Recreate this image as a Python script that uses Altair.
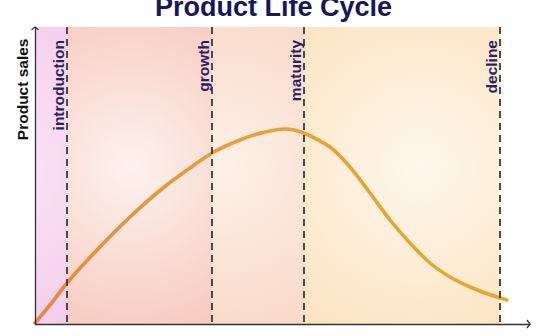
import altair as alt
import pandas as pd

# ---- data ----
time_pts = [0, 15, 32, 62, 95, 128, 155, 177, 205, 230, 250, 269, 285, 295,
            315, 335, 355, 375, 395, 415, 435, 465, 472]
sales_pts = [1, 19, 41, 74, 107, 136, 156, 171, 184, 192, 195, 191, 183, 177,
             157, 131, 104, 81, 61, 47, 37, 26, 24]

phase_names = ["introduction", "growth", "maturity", "decline"]
phase_start = [0, 32, 177, 269]
phase_end = [32, 177, 269, 465]
label_top = 284

x_max = 495
y_max = 297

W, H = 495, 297
FONT = "Liberation Sans"

curve = pd.DataFrame({"t": time_pts, "s": sales_pts})
phases = pd.DataFrame({"name": phase_names, "start": phase_start, "end": phase_end,
                       "top": [label_top] * len(phase_names)})
arrow_x = pd.DataFrame({"t": [x_max], "s": [0]})
arrow_y = pd.DataFrame({"t": [0], "s": [y_max]})

xs = alt.Scale(domain=[0, x_max], nice=False, zero=False)
ys = alt.Scale(domain=[0, y_max], nice=False, zero=False)


def x_axis():
    return alt.Axis(domain=True, ticks=False, labels=False, grid=False, title=None,
                    domainColor="#333333", domainWidth=1.3, zindex=1)


def y_axis():
    return alt.Axis(domain=True, ticks=False, labels=False, grid=False,
                    title="Product sales", titleFont=FONT, titleFontSize=15.5,
                    titleFontWeight="bold", titleColor="#111111", titleAngle=270,
                    titleAlign="right", titleBaseline="alphabetic", titleX=-8, titleY=11,
                    domainColor="#333333", domainWidth=1.3, zindex=1)


def X(field):
    return alt.X(field, type="quantitative", scale=xs, axis=x_axis(), title=None)


def Y(field):
    return alt.Y(field, type="quantitative", scale=ys, axis=y_axis(), title="Product sales")


region_styles = {
    "introduction": ("#fbe6f6", "#f3c6ea", 0.3),
    "growth": ("#fdf2ee", "#f6bfb3", 0.47),
    "maturity": ("#fdf1e8", "#f9d2bf", 0.38),
    "decline": ("#fef7ec", "#fce0ba", 0.56),
}

layers = []
for name, (inner, outer, cx) in region_styles.items():
    grad = {
        "gradient": "radial",
        "x1": cx, "y1": 0.47, "r1": 0.0,
        "x2": cx, "y2": 0.47, "r2": 0.75,
        "stops": [{"offset": 0, "color": inner}, {"offset": 1, "color": outer}],
    }
    layers.append(
        alt.Chart(phases)
        .transform_filter(alt.datum.name == name)
        .mark_rect(fill=grad, stroke=None)
        .encode(x=X("start"), x2="end")
    )

line_grad = alt.LinearGradient(
    gradient="linear", x1=0, y1=0, x2=1, y2=0,
    stops=[alt.GradientStop(offset=0, color="#e8873e"),
           alt.GradientStop(offset=0.45, color="#e9a038"),
           alt.GradientStop(offset=1, color="#e4a92f")],
)

line = alt.Chart(curve).mark_line(
    stroke=line_grad, strokeWidth=3.6, interpolate="monotone", strokeCap="round"
).encode(x=X("t"), y=Y("s"))

rules = alt.Chart(phases).mark_rule(
    color="#3a3a3a", strokeWidth=1.8, strokeDash=[7, 5]
).encode(x=X("end"))

labels = alt.Chart(phases).mark_text(
    angle=270, align="right", baseline="alphabetic", dy=-3,
    font=FONT, fontSize=15.5, fontWeight="bold", color="#2a1f63"
).encode(x=X("end"), y=Y("top"), text="name:N")

arr_x = alt.Chart(arrow_x).mark_point(
    shape="M-0.75,-1L0,0L-0.75,1", filled=False, size=64,
    stroke="#333333", strokeWidth=1.3, opacity=1
).encode(x=X("t"), y=Y("s"))

arr_y = alt.Chart(arrow_y).mark_point(
    shape="M-1,0.8L0,0L1,0.8", filled=False, size=49,
    stroke="#333333", strokeWidth=1.3, opacity=1
).encode(x=X("t"), y=Y("s"))

chart = alt.layer(*layers, line, rules, labels, arr_x, arr_y).properties(
    width=W, height=H,
    title=alt.TitleParams(
        "Product Life Cycle", font=FONT, fontSize=27, fontWeight="bold",
        color="#16165c", anchor="middle", frame="group", offset=14,
        baseline="alphabetic", dx=-9, dy=33),
    autosize=alt.AutoSizeParams(type="none"),
    padding={"left": 35, "top": 27, "right": 16, "bottom": 12},
    background="white",
).configure_view(stroke=None)

chart.save("out.html", embed_options={"renderer": "svg", "actions": False})
